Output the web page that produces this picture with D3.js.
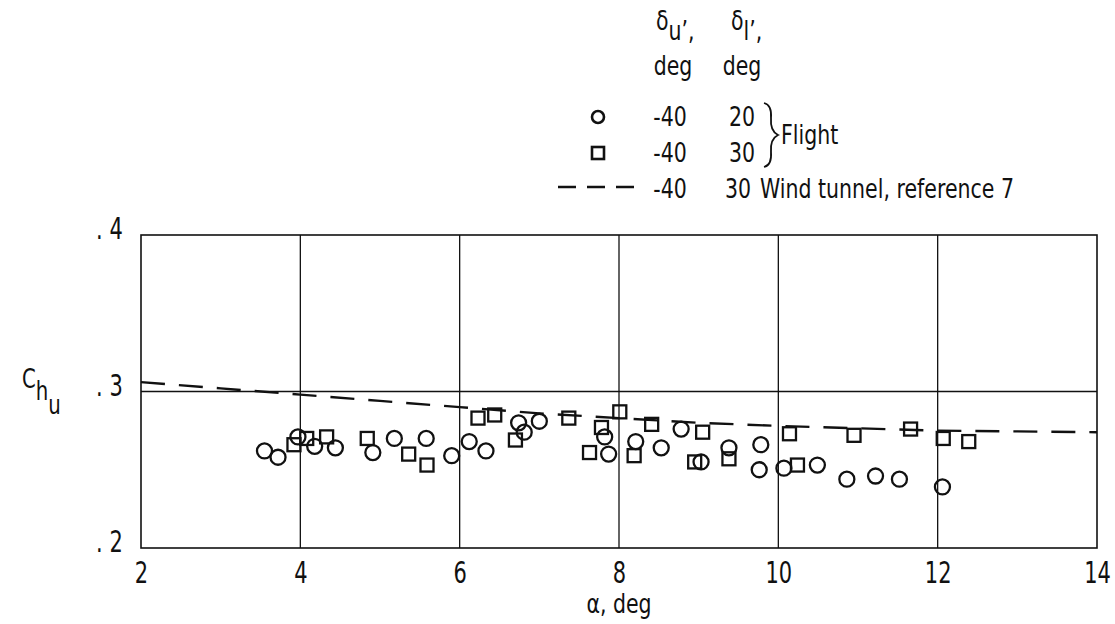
<!DOCTYPE html>
<head>
    <script src="https://d3js.org/d3.v7.min.js"></script>
    <style>
        body { margin: 0; background: #fff; }
        text { font-family: 'DejaVu Sans', sans-serif; fill: #111; }
    </style>
</head>

<body>
    <div id="chart"></div>
</body>

<script>
    const width = 1115,
        height = 624;

    // flight, delta_l = 20 (circles)
    const circAlpha = [3.55, 3.72, 3.97, 4.18, 4.44, 4.91, 5.18, 5.58, 5.90, 6.12, 6.33, 6.74, 6.81, 7.00, 7.82,
        7.87, 8.21, 8.53, 8.78, 9.03, 9.38, 9.76, 9.78, 10.07, 10.49, 10.86, 11.22, 11.52, 12.06];
    const circCh = [.262, .258, .271, .265, .264, .261, .270, .270, .259, .268, .262, .280, .274, .281, .271,
        .260, .268, .264, .276, .255, .264, .250, .266, .251, .253, .244, .246, .244, .239];

    // flight, delta_l = 30 (squares)
    const sqAlpha = [3.92, 4.08, 4.33, 4.84, 5.36, 5.59, 6.23, 6.44, 6.70, 7.37, 7.63, 7.78, 8.01, 8.19, 8.41,
        8.95, 9.05, 9.38, 10.14, 10.24, 10.95, 11.66, 12.07, 12.39];
    const sqCh = [.266, .270, .271, .270, .260, .253, .283, .285, .269, .283, .261, .277, .287, .259, .279,
        .255, .274, .257, .273, .253, .272, .276, .270, .268];

    // wind tunnel, reference 7
    const wtAlpha = [2, 3, 4, 5, 6, 7, 8, 9, 10, 11, 12, 13, 14];
    const wtCh = [.306, .302, .298, .294, .290, .286, .283, .280, .278, .2765, .275, .2745, .274];

    const xTicks = [2, 4, 6, 8, 10, 12, 14];
    const yTicks = [.2, .3, .4];
    const yTickLabels = ['. 2', '. 3', '. 4'];

    const x = d3.scaleLinear().domain([2, 14]).range([141, 1097]);
    const y = d3.scaleLinear().domain([.2, .4]).range([548, 235]);

    const svg = d3.select('#chart').append('svg')
        .attr('width', width)
        .attr('height', height);

    // narrow lettering like the original typewriter-ish plot font
    function label(parent, px, py, str, size, anchor) {
        return parent.append('text')
            .attr('transform', `translate(${px},${py}) scale(0.76,1)`)
            .attr('text-anchor', anchor || 'start')
            .style('font-size', size + 'px')
            .text(str);
    }

    // grid
    svg.append('g').selectAll('line.vg').data(xTicks.slice(1, -1))
        .join('line')
        .attr('x1', d => x(d)).attr('x2', d => x(d))
        .attr('y1', y(.4)).attr('y2', y(.2))
        .attr('stroke', '#111').attr('stroke-width', 1.3);

    svg.append('g').selectAll('line.hg').data(yTicks.slice(1, -1))
        .join('line')
        .attr('x1', x(2)).attr('x2', x(14))
        .attr('y1', d => y(d)).attr('y2', d => y(d))
        .attr('stroke', '#111').attr('stroke-width', 1.3);

    svg.append('rect')
        .attr('x', x(2)).attr('y', y(.4))
        .attr('width', x(14) - x(2)).attr('height', y(.2) - y(.4))
        .attr('fill', 'none').attr('stroke', '#111').attr('stroke-width', 1.6);

    // axes labels
    const xAxis = d3.axisBottom(x).tickValues(xTicks).tickSize(0).tickPadding(10);
    svg.append('g')
        .attr('transform', `translate(0,${y(.2)})`)
        .call(xAxis)
        .call(g => g.select('.domain').remove())
        .selectAll('text')
        .style('font-size', '30px')
        .attr('dy', '0.82em')
        .attr('transform', 'scale(0.7,1)');

    const yAxis = d3.axisLeft(y).tickValues(yTicks).tickSize(0).tickPadding(26)
        .tickFormat((d, i) => yTickLabels[i]);
    svg.append('g')
        .attr('transform', `translate(${x(2)},0)`)
        .call(yAxis)
        .call(g => g.select('.domain').remove())
        .selectAll('text')
        .style('font-size', '30px')
        .attr('dy', '0.12em')
        .attr('transform', 'scale(0.7,1)');

    label(svg, x(8), 613, 'α, deg', 27, 'middle');

    const yl = label(svg, 22, 388, '', 26);
    yl.append('tspan').text('C');
    yl.append('tspan').attr('dy', 12).text('h');
    yl.append('tspan').attr('dy', 14).text('u');

    // wind tunnel curve
    const line = d3.line()
        .x((d, i) => x(wtAlpha[i]))
        .y(d => y(d));
    svg.append('path')
        .datum(wtCh)
        .attr('d', line)
        .attr('fill', 'none')
        .attr('stroke', '#111')
        .attr('stroke-width', 2.4)
        .attr('stroke-dasharray', '24,14');

    // flight data
    svg.append('g').selectAll('circle.c20').data(circCh)
        .join('circle')
        .attr('cx', (d, i) => x(circAlpha[i]))
        .attr('cy', d => y(d))
        .attr('r', 7.5)
        .attr('fill', 'none').attr('stroke', '#111').attr('stroke-width', 2.3);

    const s = 13;
    svg.append('g').selectAll('rect.s30').data(sqCh)
        .join('rect')
        .attr('x', (d, i) => x(sqAlpha[i]) - s / 2)
        .attr('y', d => y(d) - s / 2)
        .attr('width', s).attr('height', s)
        .attr('fill', 'none').attr('stroke', '#111').attr('stroke-width', 2.3);

    // legend
    const lg = svg.append('g');
    const col1 = 670, col2 = 742, fs = 27;

    const h1 = label(lg, 656, 30, '', fs);
    h1.append('tspan').text('δ');
    h1.append('tspan').attr('dy', 10).text('u');
    h1.append('tspan').text('’,');
    const h2 = label(lg, 731, 30, '', fs);
    h2.append('tspan').text('δ');
    h2.append('tspan').attr('dy', 10).text('l');
    h2.append('tspan').text('’,');
    label(lg, col1 + 3, 75, 'deg', fs, 'middle');
    label(lg, col2, 75, 'deg', fs, 'middle');

    const rowY = [117, 153, 189];
    lg.append('circle').attr('cx', 598).attr('cy', rowY[0]).attr('r', 6)
        .attr('fill', 'none').attr('stroke', '#111').attr('stroke-width', 2.6);
    lg.append('rect').attr('x', 592).attr('y', rowY[1] - 6).attr('width', 12).attr('height', 12)
        .attr('fill', 'none').attr('stroke', '#111').attr('stroke-width', 2.6);
    lg.append('line').attr('x1', 558).attr('x2', 636).attr('y1', rowY[2] - 2).attr('y2', rowY[2] - 2)
        .attr('stroke', '#111').attr('stroke-width', 2.4).attr('stroke-dasharray', '18,11');

    const rows = [['-40', '20'], ['-40', '30'], ['-40', '30']];
    rows.forEach((r, i) => {
        label(lg, col1, rowY[i] + 9, r[0], fs, 'middle');
        label(lg, i === 2 ? col2 - 4 : col2, rowY[i] + 9, r[1], fs, 'middle');
    });

    lg.append('path')
        .attr('d', 'M764,103 Q772,105 771,118 Q770,131 778,135 Q770,139 771,152 Q772,165 764,167')
        .attr('fill', 'none').attr('stroke', '#111').attr('stroke-width', 1.8);
    label(lg, 781, 144, 'Flight', fs);
    label(lg, 760, rowY[2] + 9, 'Wind tunnel,  reference 7', fs);
</script>
</html>
